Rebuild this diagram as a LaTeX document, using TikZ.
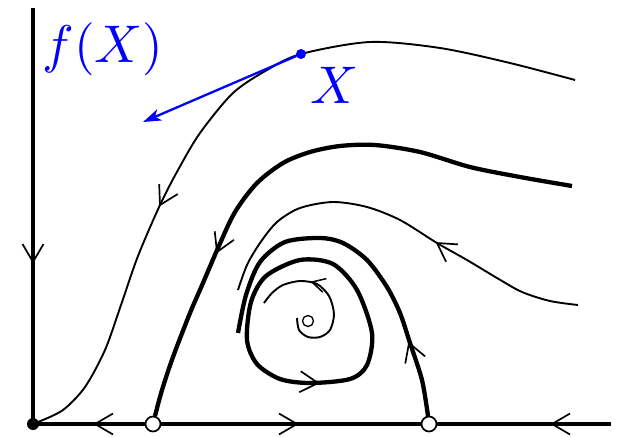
\documentclass[tikz,border=0pt]{standalone}
\usetikzlibrary{arrows.meta}
\begin{document}
\begin{tikzpicture}[x=1pt,y=-1pt,
  axisline/.style={line width=4.4pt},
  thinflow/.style={line width=1.9pt},
  thickflow/.style={line width=4.3pt},
  chev/.style={line width=1.7pt},
  chevpic/.pic={\draw[chev] (-18pt,10.5pt) -- (0pt,0pt) -- (-18pt,-10.5pt);},
  smallchev/.pic={\draw[chev,line width=1.5pt] (-13pt,7pt) -- (0pt,0pt) -- (-13pt,-7pt);},
  fixed/.style={circle,fill=black,inner sep=0pt,minimum size=12pt},
  saddle/.style={circle,draw=black,fill=white,line width=1.7pt,inner sep=0pt,minimum size=15pt},
  focus/.style={circle,draw=black,fill=white,line width=1.3pt,inner sep=0pt,minimum size=11pt},
  bluedot/.style={circle,fill=blue,inner sep=0pt,minimum size=10pt},
  biglabel/.style={text=blue,inner sep=0pt}]
\useasboundingbox (0,0) rectangle (622,437);
% axes
\coordinate (ytop) at (33,8);
\coordinate (xend) at (611,424);
\coordinate (O) at (33,424);
\draw[axisline] (ytop) -- (O) -- (xend);
\pic[rotate=-90] at (33,262) {chevpic};
\pic[rotate=180] at (95,424) {chevpic};
\pic at (297,424) {chevpic};
\pic[rotate=180] at (552,424) {chevpic};
% C1 thin orbit through X
\draw[thinflow] plot[smooth] coordinates {(575,80) (510,63) (440,48) (370,42) (301,54) (267,70) (233,93) (200,133) (178,170) (160,205) (138,256) (121,305) (105,350) (85,387) (63,410) (38,422)};
\pic[rotate=-118] at (160,205) {chevpic};
% C2 thick separatrix
\draw[thickflow] plot[smooth] coordinates {(572,186) (520,177) (470,167) (420,152) (375,145) (340,146) (310,152) (283,163) (257,183) (235,212) (218,248) (203,283) (190,313) (173,357) (162,390) (155,416)};
\pic[rotate=-114] at (217,252) {chevpic};
% C3 thin
\draw[thinflow] plot[smooth] coordinates {(578,305) (550,301) (522,292) (497,278) (467,260) (437,243) (400,220) (367,207) (333,202) (300,208) (277,222) (260,243) (247,265) (238,290)};
\pic[rotate=146] at (437,243) {chevpic};
% C4 thick
\draw[thickflow] plot[smooth] coordinates {(428,416) (422,380) (410,343) (400,313) (387,287) (367,260) (343,243) (320,238) (285,242) (260,262) (246,295) (238,333)};
\pic[rotate=110] at (409,343) {chevpic};
% C5 limit cycle
\draw[thickflow] plot[smooth cycle] coordinates {(300,260) (333,264) (357,290) (372,333) (367,365) (350,379) (310,383) (280,379) (257,364) (247,340) (251,302) (266,276)};
\pic[rotate=-4] at (318,383) {chevpic};
% C6 spiral
\draw[thinflow] plot[smooth] coordinates {(297,318) (299,330) (308,337) (320,337) (330,330) (334,314) (329,296) (317,284) (300,281) (283,285) (272,293) (264,303)};
\pic[rotate=165] at (312,282) {smallchev};
% equilibria
\node[fixed] (o) at (O) {};
\node[saddle] (s1) at (153,424) {};
\node[saddle] (s2) at (429,424) {};
\node[focus] (c) at (308,321) {};
% X and f(X)
\node[bluedot] (X) at (301,54) {};
\coordinate (fend) at (143,122);
\draw[blue,line width=2.3pt,-{Stealth[length=18pt,width=12pt,inset=5pt]}] (X) -- (fend);
\node[biglabel,anchor=base] (fx) at (103,62) {\scalebox{5.3}{$f(X)$}};
\node[biglabel,anchor=base] (xl) at (335,103) {\scalebox{5.3}{$X$}};
\end{tikzpicture}
\end{document}
